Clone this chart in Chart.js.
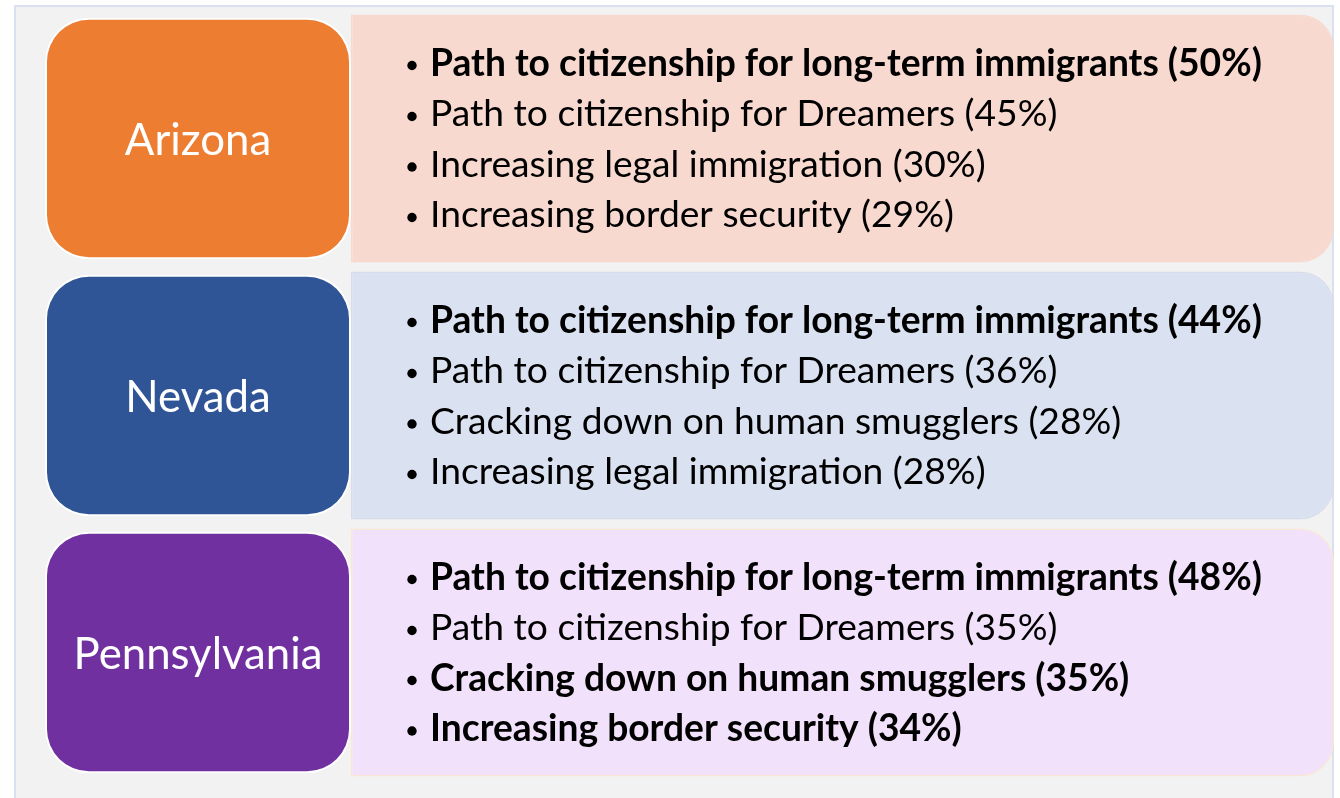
<!DOCTYPE html>
<html>
<head>
<meta charset="utf-8">
<script src="https://cdn.jsdelivr.net/npm/chart.js@4/dist/chart.umd.min.js"></script>
<style>
    html, body { margin: 0; padding: 0; background: #ffffff; }
    #wrap { width: 1340px; height: 798px; position: relative; }
</style>
</head>
<body>
<div id="wrap"><canvas id="topicsChart"></canvas></div>
<script>
// States and their most chosen immigration priorities
const states = ['Arizona', 'Nevada', 'Pennsylvania'];

const azItems = ['Path to citizenship for long-term immigrants', 'Path to citizenship for Dreamers', 'Increasing legal immigration', 'Increasing border security'];
const azPct = [50, 45, 30, 29];
const azBold = [true, false, false, false];

const nvItems = ['Path to citizenship for long-term immigrants', 'Path to citizenship for Dreamers', 'Cracking down on human smugglers', 'Increasing legal immigration'];
const nvPct = [44, 36, 28, 28];
const nvBold = [true, false, false, false];

const paItems = ['Path to citizenship for long-term immigrants', 'Path to citizenship for Dreamers', 'Cracking down on human smugglers', 'Increasing border security'];
const paPct = [48, 35, 35, 34];
const paBold = [true, false, true, true];

const stateColors = ['#ed7d31', '#2f5597', '#7030a0'];
const listFills = ['#f8d9cf', '#dae1f0', '#f2e1fa'];
const listBorders = ['#f8d9cf', '#d6dcea', '#fbe6d6'];

const rows = [
    { items: azItems, pct: azPct, bold: azBold },
    { items: nvItems, pct: nvPct, bold: nvBold },
    { items: paItems, pct: paPct, bold: paBold }
];

// layout
const SPLIT = 0.2374;           // where the label box ends on the hidden x scale
const FONT = 'Lato, "Open Sans", sans-serif';
const LINE_PITCH = 50.5;
const FIRST_BASELINE = -63;     // first baseline relative to row centre

function fitSize(ctx, text, weight, target) {
    ctx.font = weight + ' 100px ' + FONT;
    return 100 * target / ctx.measureText(text).width;
}

const framePlugin = {
    id: 'frame',
    beforeDraw(chart) {
        const ctx = chart.ctx;
        ctx.save();
        ctx.fillStyle = '#f2f2f2';
        ctx.fillRect(15, 6, 1318, 800);
        ctx.strokeStyle = '#dae0ef';
        ctx.lineWidth = 2;
        ctx.strokeRect(15, 6, 1318, 800);
        ctx.restore();
    }
};

const textPlugin = {
    id: 'rowText',
    afterDatasetsDraw(chart) {
        const ctx = chart.ctx;
        const listMeta = chart.getDatasetMeta(0);
        const labelMeta = chart.getDatasetMeta(1);

        const textSize = fitSize(ctx, 'Path to citizenship for long-term immigrants (50%)', 'bold', 832);
        const labelSize = fitSize(ctx, 'Pennsylvania', 'normal', 249);

        ctx.save();
        states.forEach((st, i) => {
            // state label, centred in the coloured box
            const lb = labelMeta.data[i].getProps(['x', 'y', 'base'], true);
            ctx.font = 'normal ' + labelSize + 'px ' + FONT;
            ctx.fillStyle = '#ffffff';
            ctx.textAlign = 'center';
            ctx.textBaseline = 'alphabetic';
            const cap = ctx.measureText('A').actualBoundingBoxAscent;
            ctx.fillText(st, (lb.x + lb.base) / 2, lb.y + cap / 2);

            // bullet list
            const bb = listMeta.data[i].getProps(['x', 'y', 'base'], true);
            const r = rows[i];
            ctx.textAlign = 'left';
            r.items.forEach((txt, j) => {
                const base = bb.y + FIRST_BASELINE + j * LINE_PITCH;
                ctx.font = (r.bold[j] ? 'bold ' : 'normal ') + textSize + 'px ' + FONT;
                ctx.fillStyle = '#000000';
                const xh = ctx.measureText('x').actualBoundingBoxAscent;
                ctx.beginPath();
                ctx.arc(bb.base + 61, base - xh / 2, 4.7, 0, Math.PI * 2);
                ctx.fill();
                ctx.fillText(txt + ' (' + r.pct[j] + '%)', bb.base + 79, base);
            });
        });
        ctx.restore();
    }
};

new Chart(document.getElementById('topicsChart'), {
    type: 'bar',
    data: {
        labels: states,
        datasets: [
            {
                label: 'Top priorities',
                data: states.map(() => [SPLIT, 1]),
                backgroundColor: listFills,
                borderColor: listBorders,
                borderWidth: 1.5,
                borderSkipped: false,
                borderRadius: { topLeft: 0, bottomLeft: 0, topRight: 34, bottomRight: 34 },
                barPercentage: 0.965,
                categoryPercentage: 1,
                grouped: false,
                order: 2
            },
            {
                label: 'State',
                data: states.map(() => [0, SPLIT]),
                backgroundColor: stateColors,
                borderColor: '#ffffff',
                borderWidth: 2,
                borderSkipped: false,
                borderRadius: 44,
                barPercentage: 0.94,
                categoryPercentage: 1,
                grouped: false,
                order: 1
            }
        ]
    },
    options: {
        indexAxis: 'y',
        responsive: true,
        maintainAspectRatio: false,
        animation: false,
        layout: { padding: { left: 45, right: 6, top: 10, bottom: 17 } },
        scales: {
            x: { display: false, min: 0, max: 1 },
            y: { display: false }
        },
        plugins: {
            legend: { display: false },
            tooltip: { enabled: false }
        }
    },
    plugins: [framePlugin, textPlugin]
});
</script>
</body>
</html>
